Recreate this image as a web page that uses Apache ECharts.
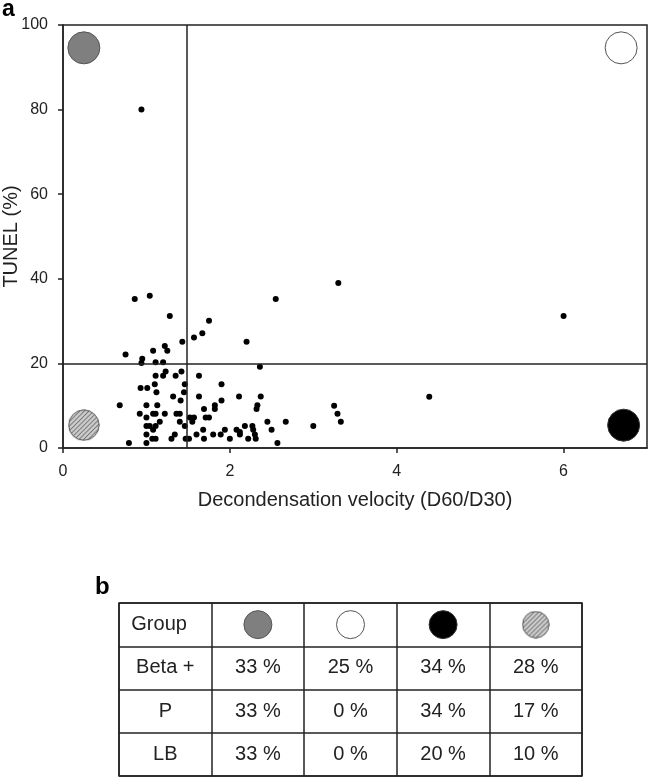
<!DOCTYPE html>
<html><head><meta charset="utf-8">
<script src="https://cdn.jsdelivr.net/npm/echarts@6/dist/echarts.min.js"></script>
<style>html,body{margin:0;padding:0;background:#fff}#c{width:649px;height:778px}</style>
</head><body><div id="c"></div>
<script>
// ---- data ----
const velocity = [0.94,3.30,6.00,4.39,3.25,3.29,3.33,3.00,0.86,1.04,2.55,1.28,1.75,1.67,1.57,1.43,2.20,0.75,1.08,1.22,1.25,0.95,0.94,1.11,1.20,2.36,1.11,1.20,1.23,1.35,1.42,1.63,0.93,1.01,1.10,1.12,1.46,1.45,1.90,1.32,1.41,1.63,2.11,2.37,1.90,0.68,1.00,1.13,1.82,1.82,1.69,2.33,2.32,0.92,1.08,1.11,1.00,1.22,1.36,1.40,1.52,1.57,1.55,1.71,1.75,1.16,1.40,2.45,2.67,1.00,1.04,1.11,1.46,2.18,2.27,2.50,1.08,1.68,1.94,2.08,2.28,1.00,1.34,1.60,1.80,1.89,2.12,2.30,1.07,1.11,1.30,1.47,1.51,1.69,2.00,2.22,2.31,0.79,1.00,2.57,2.12];
const tunel    = [80.0,39.0,31.2,12.1,10.0,8.1,6.2,5.2,35.2,36.0,35.2,31.2,30.1,27.1,26.1,25.1,25.1,22.1,23.0,24.1,23.0,21.1,20.1,20.3,20.3,19.2,17.1,17.1,18.1,17.1,18.1,17.1,14.2,14.2,15.1,13.2,15.1,13.2,15.1,12.2,11.2,12.2,12.2,12.2,11.2,10.1,10.1,10.1,10.1,9.2,9.2,10.1,9.2,8.1,8.1,8.1,7.2,8.1,8.1,8.1,7.2,7.2,6.2,7.2,7.2,6.2,6.2,6.2,6.2,5.2,5.2,5.2,5.2,5.2,5.2,4.3,4.3,4.3,4.3,4.3,4.3,3.2,3.2,3.2,3.2,3.2,3.2,3.2,2.2,2.2,2.2,2.2,2.2,2.2,2.2,2.2,2.2,1.2,1.2,1.2,3.8];
const groupX = [0.25, 6.69, 6.72, 0.25];
const groupY = [94.6, 94.6, 5.4, 5.4];
const xTicks = [0, 2, 4, 6];
const yTicks = [0, 20, 40, 60, 80, 100];
const velocityCut = 1.48;
const tunelCut = 20;
const tableCols = ['Group', 'G1', 'G2', 'G3', 'G4'];
const tableRows = ['Group', 'Beta +', 'P', 'LB'];
const betaPlusRow = ['33 %', '25 %', '34 %', '28 %'];
const pRow = ['33 %', '0 %', '34 %', '17 %'];
const lbRow = ['33 %', '0 %', '20 %', '10 %'];

// ---- styles ----
const FONT = 'Liberation Sans, Arial, Helvetica, sans-serif';
const INK = '#222';
function hatchedCircle(size) {
  const cv = document.createElement('canvas');
  cv.width = size; cv.height = size;
  const g = cv.getContext('2d');
  const r = size / 2 - 0.8;
  g.save();
  g.beginPath(); g.arc(size / 2, size / 2, r, 0, Math.PI * 2); g.closePath();
  g.fillStyle = '#cdcdcd'; g.fill();
  g.clip();
  g.strokeStyle = '#555'; g.lineWidth = 1;
  g.beginPath();
  for (let k = -size; k < 2 * size; k += 4.6) {
    g.moveTo(k, size); g.lineTo(k + size, 0);
  }
  g.stroke();
  g.restore();
  g.beginPath(); g.arc(size / 2, size / 2, r, 0, Math.PI * 2);
  g.strokeStyle = '#555'; g.lineWidth = 1; g.stroke();
  return 'image://' + cv.toDataURL();
}
const groupStyles = [
  { color: '#7f7f7f', borderColor: '#555', borderWidth: 1, opacity: 1 },
  { color: '#ffffff', borderColor: '#555', borderWidth: 1, opacity: 1 },
  { color: '#000000', borderColor: '#333', borderWidth: 1, opacity: 1 },
  { opacity: 1 }
];

const dots = velocity.map((v, i) => [v, tunel[i]]);
const groups = groupX.map((x, i) => {
  const d = { value: [x, groupY[i]], itemStyle: groupStyles[i] };
  if (i === 3) d.symbol = hatchedCircle(32);
  return d;
});

const valueRows = [betaPlusRow, pRow, lbRow];
const cellTexts = [{ value: [0, 0], name: tableRows[0], label: { align: 'left', offset: [-34, 0] } }];
for (let r = 1; r < tableRows.length; r++) {
  cellTexts.push({ value: [0, r], name: tableRows[r] });
  valueRows[r - 1].forEach((t, c) => cellTexts.push({ value: [c + 1, r], name: t }));
}
const headerCircles = groupStyles.map((s, i) => {
  const d = { value: [i + 1, 0], itemStyle: s };
  if (i === 3) d.symbol = hatchedCircle(28);
  return d;
});

const chart = echarts.init(document.getElementById('c'), null, { renderer: 'canvas' });
chart.setOption({
  animation: false,
  backgroundColor: '#fff',
  textStyle: { fontFamily: FONT },
  grid: [
    { left: 63, top: 25, right: 2, bottom: 330, show: true, borderColor: INK, borderWidth: 1.5, containLabel: false, outerBoundsMode: 'none' },
    { left: 119, top: 603, width: 463, height: 173, show: true, borderColor: INK, borderWidth: 1.5, containLabel: false, outerBoundsMode: 'none' }
  ],
  xAxis: [
    {
      type: 'value', min: 0, max: 7, interval: 1, gridIndex: 0,
      name: 'Decondensation velocity (D60/D30)', nameLocation: 'middle', nameGap: 42, nameMoveOverlap: false,
      nameTextStyle: { fontSize: 20, color: INK, fontFamily: FONT },
      axisLine: { show: true, lineStyle: { color: INK, width: 1.5 } },
      axisTick: { show: true, inside: false, length: 5, customValues: xTicks, lineStyle: { color: INK, width: 1.5 } },
      axisLabel: { customValues: xTicks, fontSize: 16, color: INK, margin: 16, fontFamily: FONT },
      splitLine: { show: false }
    },
    {
      type: 'category', gridIndex: 1, data: tableCols, boundaryGap: true,
      axisLine: { show: false }, axisTick: { show: false }, axisLabel: { show: false },
      splitLine: { show: true, interval: 0, lineStyle: { color: INK, width: 1.5 } }
    }
  ],
  yAxis: [
    {
      type: 'value', min: 0, max: 100, interval: 20, gridIndex: 0,
      name: 'TUNEL (%)', nameLocation: 'middle', nameGap: 42, nameRotate: 90, nameMoveOverlap: false,
      nameTextStyle: { fontSize: 20, color: INK, fontFamily: FONT },
      axisLine: { show: true, lineStyle: { color: INK, width: 1.5 } },
      axisTick: { show: true, inside: false, length: 5, customValues: yTicks, lineStyle: { color: INK, width: 1.5 } },
      axisLabel: { customValues: yTicks, fontSize: 16, color: INK, margin: 15, fontFamily: FONT },
      splitLine: { show: false }
    },
    {
      type: 'category', gridIndex: 1, data: tableRows, inverse: true, boundaryGap: true,
      axisLine: { show: false }, axisTick: { show: false }, axisLabel: { show: false },
      splitLine: { show: true, interval: 0, lineStyle: { color: INK, width: 1.5 } }
    }
  ],
  series: [
    {
      type: 'scatter', xAxisIndex: 0, yAxisIndex: 0, data: dots, symbolSize: 6,
      itemStyle: { color: '#000', opacity: 1 }, silent: true,
      markLine: {
        silent: true, symbol: 'none', label: { show: false },
        lineStyle: { color: INK, width: 1.5, type: 'solid', opacity: 1 },
        data: [{ xAxis: velocityCut }, { yAxis: tunelCut }]
      }
    },
    {
      type: 'scatter', xAxisIndex: 0, yAxisIndex: 0, data: groups, symbolSize: 32, silent: true, z: 3
    },
    {
      type: 'scatter', xAxisIndex: 1, yAxisIndex: 1, data: headerCircles, symbolSize: 28, silent: true
    },
    {
      type: 'scatter', xAxisIndex: 1, yAxisIndex: 1, data: cellTexts, symbolSize: 1, silent: true,
      itemStyle: { color: 'rgba(0,0,0,0)', opacity: 1 },
      label: { show: true, position: 'inside', formatter: p => p.name, fontSize: 20, color: INK, opacity: 1, fontFamily: FONT }
    }
  ],
  graphic: [
    { type: 'text', left: 2, top: -2, style: { text: 'a', fill: '#000', font: 'bold 23px ' + FONT } },
    { type: 'text', left: 95, top: 575, style: { text: 'b', fill: '#000', font: 'bold 24px ' + FONT } }
  ]
});
</script>
</body></html>
